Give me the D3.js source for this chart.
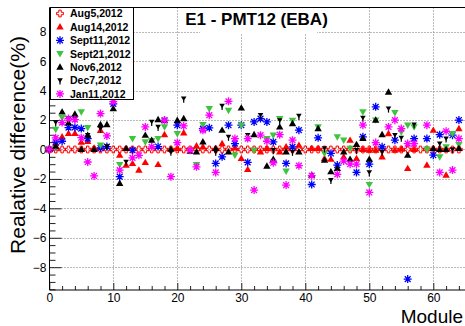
<!DOCTYPE html>
<html>
<head>
<meta charset="utf-8">
<script src="https://cdn.jsdelivr.net/npm/d3@7"></script>
<style>
  body { margin: 0; background: #fff; }
  svg { display: block; }
  text { font-family: "Liberation Sans", Arial, sans-serif; }
</style>
</head>
<body>
<svg id="chart" width="465" height="326"></svg>
<script>
// Module numbers along the x axis
const modules = [0,1,2,3,4,5,6,7,8,9,10,11,12,13,14,15,16,17,18,19,20,21,22,23,24,25,26,27,28,29,30,31,32,
  33,34,35,36,37,38,39,40,41,42,43,44,45,46,47,48,49,50,51,52,53,54,55,56,57,58,59,60,61,62,63,64];

// Relative difference (%) per module for each measurement date (null = no point)
const aug5 = [0,0,0,0,0,0,0,0,0,0,0,0,0,0,0,0,0,0,0,0,0,0,0,0,0,0,0,0,0,0,0,0,0,
  0,0,0,0,0,0,0,0,0,0,0,0,0,0,0,0,0,0,0,0,0,0,0,0,0,0,0,0,0,0,0,0];
const aug14 = [0,0.4,0.86,1.09,1.1,0.5,0.55,0.1,1.3,null,null,-0.39,-1.06,-0.95,-1.4,-0.88,null,-1.02,1.01,null,
  0.07,1.13,null,0.25,0.18,null,null,0.4,null,0.11,-0.61,-1.36,null,-0.16,0.07,null,-0.16,0.18,null,0.29,
  null,0.07,0.07,-0.61,-0.66,null,-0.5,0.63,-0.61,0,-0.05,-0.05,-0.5,1.08,-0.05,0.02,-1.29,0,null,-1.06,
  1.31,null,-1.74,null,1.42];
const sept11 = [0,0.5,0.56,1.49,1.5,1.42,0.74,null,0.1,0.2,3.1,-1.85,null,-0.05,null,null,null,0.2,1.98,null,
  1.65,null,null,null,1.42,1.47,-0.95,-0.5,1.65,0.4,1.65,-0.88,1.87,2.1,1.87,0.52,null,-0.95,0.18,1.31,
  null,-2.38,0.79,null,-0.27,-1.06,null,null,-1.56,0.86,-1.0,2.9,0.18,null,0.63,null,-8.81,0.74,null,0.74,
  -0.39,1.01,null,0.97,2.0];
const sept21 = [0,1.37,2.17,2.1,null,2.55,1.49,null,0.29,null,null,-1.02,null,0.74,null,0.52,0.6,0.74,1.53,null,
  1.08,null,null,-1.02,1.69,2.78,null,null,2.66,-0.39,1.65,null,-0.05,null,0.74,0.97,2.1,-1.47,1.98,null,
  null,null,1.53,-0.27,null,0.86,0.63,0.07,null,2.55,-2.38,2.0,null,null,2.5,1.19,1.65,1.53,null,0.02,
  null,-0.5,0.18,1.08,0.34];
const nov6 = [0,0.22,2.55,1.8,2.4,0.0,0.97,0.0,1.69,1.69,2.78,-2.3,0.07,null,null,0.97,0.63,2.03,1.98,0.02,
  1.98,2.1,-0.12,-0.16,0.52,null,0.07,1.31,-0.16,null,2.82,null,1.01,null,-1.13,-0.66,1.53,-0.16,1.76,-0.16,
  null,-1.74,1.42,-0.72,-1.51,-1.29,-0.16,-0.66,0.34,0.75,-0.66,2.0,1.01,3.9,null,null,-0.39,null,null,null,
  0.07,0,0,null,0.07];
const dec7 = [0,1.83,null,2.1,2.1,null,0.97,null,1.42,0.2,null,null,-0.84,null,null,null,1.87,1.53,null,-0.16,
  null,3.45,null,null,null,null,-0.16,2.96,0.86,null,null,0.97,null,2.33,null,-0.05,1.98,null,-0.16,2.28,
  null,null,null,0.07,-2.08,null,null,null,-0.05,2.15,-1.56,null,-0.16,2.78,0.97,0.79,null,1.69,null,null,
  null,0.4,0.74,0,null];
const jan11 = [0,0.79,1.83,2.1,2.03,0.8,-0.85,-1.8,2.44,0.92,3.25,-1.4,null,-0.57,-0.4,1.53,0.18,null,1.98,-1.85,
  0.47,1.6,-0.05,-1.18,1.3,2.33,-1.56,null,3.27,0.74,null,0.74,-2.76,0.97,0.56,-0.9,1.01,-2.42,0.63,-1.1,
  null,-1.78,null,null,null,-1.69,-0.79,-1.0,-0.99,1.65,-2.92,0.47,null,1.53,1.99,1.42,0.4,0.4,null,1.65,
  null,-1.56,1.24,-1.4,0.74];

const seriesNames = ["Aug5,2012", "Aug14,2012", "Sept11,2012", "Sept21,2012", "Nov6,2012", "Dec7,2012", "Jan11,2012"];
const seriesValues = [aug5, aug14, sept11, sept21, nov6, dec7, jan11];
const seriesColors = ["#ff0000", "#ff0000", "#0000ff", "#3fc43f", "#000000", "#000000", "#ff00ff"];
const seriesMarkers = ["opencross", "triup", "star", "tridown", "triup", "tridownsmall", "star"];

const xTicks = [0, 10, 20, 30, 40, 50, 60];
const yTicks = [-8, -6, -4, -2, 0, 2, 4, 6, 8];
const titleText = "E1 - PMT12 (EBA)";
const xLabel = "Module";
const yLabel = "Realative difference(%)";

const svg = d3.select("#chart");
const frame = { left: 49.5, right: 465.5, top: 7.5, bottom: 290 };

const x = d3.scaleLinear().domain([0, 65]).range([49.3, 465.3]);
const y = d3.scaleLinear().domain([-9.55, 9.65]).range([frame.bottom, frame.top]);

// dotted grid
const grid = svg.append("g").attr("stroke", "#777").attr("stroke-dasharray", "1,2").attr("stroke-width", 1);
xTicks.filter(d => d > 0).forEach(d => {
  grid.append("line").attr("x1", Math.round(x(d)) + 0.5).attr("x2", Math.round(x(d)) + 0.5)
    .attr("y1", frame.top).attr("y2", frame.bottom);
});
yTicks.forEach(d => {
  grid.append("line").attr("x1", frame.left).attr("x2", frame.right)
    .attr("y1", Math.round(y(d)) + 0.5).attr("y2", Math.round(y(d)) + 0.5);
});

// title box hides the grid behind the title
svg.append("rect").attr("x", 200).attr("y", frame.top + 0.5).attr("width", 117).attr("height", 25).attr("fill", "#fff");
svg.append("text").attr("x", 256.5).attr("y", 24.5).attr("text-anchor", "middle")
  .attr("font-size", 17).attr("font-weight", "bold").text(titleText);

// axes
const yAxis = d3.axisLeft(y).tickValues(yTicks).tickSize(12).tickSizeOuter(0).tickPadding(3)
  .tickFormat(d3.format("d"));
const yMinor = d3.axisLeft(y).tickValues(d3.range(-9.5, 9.51, 0.5).filter(v => v % 2 !== 0))
  .tickSize(6).tickSizeOuter(0).tickFormat("");
const xAxis = d3.axisBottom(x).tickValues(xTicks).tickSize(7).tickSizeOuter(0).tickPadding(4)
  .tickFormat(d3.format("d"));
const xMinor = d3.axisBottom(x).tickValues(d3.range(2, 65, 2).filter(v => v % 10 !== 0))
  .tickSize(4).tickSizeOuter(0).tickFormat("");

function styleAxis(g) {
  g.select(".domain").remove();
  g.selectAll("text").attr("font-size", 12).attr("fill", "#000").style("font-family", '"Liberation Sans", Arial, sans-serif');
  g.selectAll("line").attr("stroke", "#222");
}
svg.append("g").attr("transform", `translate(${frame.left + 12},0)`).call(yAxis).call(styleAxis)
  .selectAll("text").attr("x", -15);
svg.append("g").attr("transform", `translate(${frame.left + 6},0)`).call(yMinor).call(styleAxis);
svg.append("g").attr("transform", `translate(0,${frame.bottom - 7})`).call(xAxis).call(styleAxis)
  .selectAll("text").attr("y", 10);
svg.append("g").attr("transform", `translate(0,${frame.bottom - 4})`).call(xMinor).call(styleAxis);

// frame lines
svg.append("path").attr("d", `M${frame.right},${frame.top}H${frame.left}V${frame.bottom}H${frame.right}`)
  .attr("fill", "none").attr("stroke", "#000").attr("stroke-width", 1);

// marker shapes
function markerPath(type) {
  switch (type) {
    case "opencross": {
      const a = 1.2, b = 3.4;
      return `M${-a},${-b}L${a},${-b}L${a},${-a}L${b},${-a}L${b},${a}L${a},${a}L${a},${b}L${-a},${b}L${-a},${a}L${-b},${a}L${-b},${-a}L${-a},${-a}Z`;
    }
    case "triup": return "M0,-3.8L3.7,2.6L-3.7,2.6Z";
    case "tridown": return "M0,3.8L3.7,-2.6L-3.7,-2.6Z";
    case "tridownsmall": return "M0,2.4L2.8,-2.2L-2.8,-2.2Z";
    case "star": {
      const s = 4, d = 2.9;
      return `M${-s},0H${s}M0,${-s}V${s}M${-d},${-d}L${d},${d}M${-d},${d}L${d},${-d}`;
    }
  }
}
function drawMarker(g, type, color) {
  if (type === "opencross") {
    g.append("path").attr("d", markerPath(type)).attr("fill", "none").attr("stroke", color).attr("stroke-width", 1);
  } else if (type === "star") {
    g.append("path").attr("d", markerPath(type)).attr("fill", "none").attr("stroke", color).attr("stroke-width", 1.3);
  } else if (type === "tridownsmall") {
    g.append("path").attr("d", markerPath(type)).attr("fill", color);
    g.append("path").attr("d", "M0,1V4").attr("stroke", color).attr("stroke-width", 1.2);
  } else {
    g.append("path").attr("d", markerPath(type)).attr("fill", color);
  }
}

// data points
const plot = svg.append("g");
seriesValues.forEach((vals, i) => {
  const pts = modules.map((m, j) => ({ m, v: vals[j] })).filter(p => p.v !== null);
  const g = plot.append("g").attr("class", "series");
  pts.forEach(p => {
    const mg = g.append("g").attr("transform", `translate(${x(p.m)},${y(p.v)})`);
    drawMarker(mg, seriesMarkers[i], seriesColors[i]);
  });
});

// legend
const leg = svg.append("g");
leg.append("rect").attr("x", 50.5).attr("y", 7.5).attr("width", 83).attr("height", 92)
  .attr("fill", "#fff").attr("stroke", "#000").attr("stroke-width", 1);
seriesNames.forEach((name, i) => {
  const cy = 13.5 + i * 13.4;
  const mg = leg.append("g").attr("transform", `translate(60,${cy})`);
  drawMarker(mg, seriesMarkers[i], seriesColors[i]);
  leg.append("text").attr("x", 70).attr("y", cy + 3.8).attr("font-size", 10.5).attr("font-weight", "bold").text(name);
});

// axis titles
svg.append("text").attr("x", 463).attr("y", 323).attr("text-anchor", "end").attr("font-size", 19).text(xLabel);
svg.append("text").attr("transform", "translate(25,145) rotate(-90)").attr("text-anchor", "middle")
  .attr("font-size", 21).text(yLabel);
</script>
</body>
</html>
